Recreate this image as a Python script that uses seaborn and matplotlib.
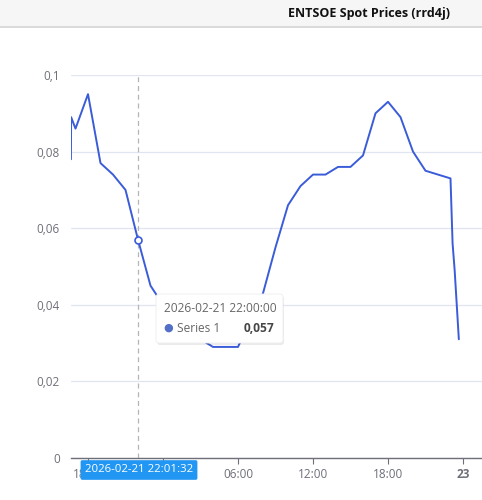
import pandas as pd
import numpy as np
import matplotlib
matplotlib.use("Agg")
import matplotlib.pyplot as plt
from matplotlib.patches import Rectangle, FancyBboxPatch
import seaborn as sns

# price data (EUR/kWh)
times = [
    "2026-02-21 16:38", "2026-02-21 16:39", "2026-02-21 17:00",
    "2026-02-21 18:00", "2026-02-21 19:00", "2026-02-21 20:00",
    "2026-02-21 21:00", "2026-02-21 22:00", "2026-02-21 23:00",
    "2026-02-22 00:00", "2026-02-22 01:00", "2026-02-22 02:00",
    "2026-02-22 03:00", "2026-02-22 04:00", "2026-02-22 05:00",
    "2026-02-22 06:00", "2026-02-22 07:00", "2026-02-22 08:00",
    "2026-02-22 09:00", "2026-02-22 10:00", "2026-02-22 11:00",
    "2026-02-22 12:00", "2026-02-22 13:00", "2026-02-22 14:00",
    "2026-02-22 15:00", "2026-02-22 16:00", "2026-02-22 17:00",
    "2026-02-22 18:00", "2026-02-22 19:00", "2026-02-22 20:00",
    "2026-02-22 21:00", "2026-02-22 22:00", "2026-02-22 23:00",
    "2026-02-22 23:10", "2026-02-22 23:20", "2026-02-22 23:40",
]
prices = [
    0.078, 0.089, 0.086,
    0.095, 0.077, 0.074,
    0.070, 0.057, 0.045,
    0.040, 0.036, 0.033,
    0.031, 0.029, 0.029,
    0.029, 0.036, 0.043,
    0.055, 0.066, 0.071,
    0.074, 0.074, 0.076,
    0.076, 0.079, 0.090,
    0.093, 0.089, 0.080,
    0.075, 0.074, 0.073,
    0.056, 0.049, 0.031,
]
y_ticks = [0, 0.02, 0.04, 0.06, 0.08, 0.1]
y_labels = ["0", "0,02", "0,04", "0,06", "0,08", "0,1"]
x_ticks = ["2026-02-21 18:00", "2026-02-22 00:00", "2026-02-22 06:00",
           "2026-02-22 12:00", "2026-02-22 18:00", "2026-02-23 00:00"]
# the midnight label under the pointer box is hidden in the reference
x_labels = ["18:00", "", "06:00", "12:00", "18:00", "23"]
hover_time = "2026-02-21 22:00"
hover_value = 0.057

df = pd.DataFrame({"time": pd.to_datetime(times), "price": prices})

sns.set_theme(style="white")
plt.rcParams["font.family"] = ["Open Sans", "DejaVu Sans"]

W, H = 482, 500
fig = plt.figure(figsize=(W / 100, H / 100), dpi=100)
fig.patch.set_facecolor("white")

def fx(px):
    return px / W

def fy(py):
    return 1 - py / H

ax = fig.add_axes([fx(71), fy(458), (482 - 71) / W, (458 - 75) / H])
line_color = "#3a5cd8"
sns.lineplot(data=df, x="time", y="price", ax=ax, color=line_color, lw=1.4)

# crosshair + hovered point
hx = pd.Timestamp(hover_time)
ax.axvline(hx, color="#b5b5b5", lw=0.9, ls=(0, (4, 3)), zorder=1)
ax.plot([hx], [hover_value], marker="o", ms=5, mfc="white", mec=line_color, mew=1.2, zorder=5)

ax.set_ylim(0, 0.1)
start = pd.Timestamp("2026-02-21 18:00")
left = start + pd.Timedelta(hours=(71 - 88) / 12.5)
right = start + pd.Timedelta(hours=(482 - 88) / 12.5)
ax.set_xlim(left, right)

ax.set_yticks(y_ticks)
ax.set_yticklabels(y_labels)
ax.set_xticks(pd.to_datetime(x_ticks))
ax.set_xticklabels(x_labels)
for lbl in ax.get_xticklabels():
    if lbl.get_text() == "23":
        lbl.set_fontweight("bold")
        lbl.set_color("#464646")
ax.tick_params(axis="y", length=0, pad=8, labelsize=8.5, labelcolor="#6e7079")
ax.tick_params(axis="x", length=4, width=0.8, color="#6e7079", pad=3,
               labelsize=8.5, labelcolor="#6e7079", direction="out")
ax.xaxis.set_ticks_position("bottom")
ax.grid(axis="y", color="#e0e6f1", lw=0.9)
ax.grid(axis="x", visible=False)
for s in ["left", "right", "top"]:
    ax.spines[s].set_visible(False)
ax.spines["bottom"].set_color("#6e7079")
ax.spines["bottom"].set_linewidth(1.0)
ax.set_xlabel("")
ax.set_ylabel("")

# header bar
fig.add_artist(Rectangle((0, fy(26)), 1, 26 / H, transform=fig.transFigure,
                         facecolor="#f6f6f6", edgecolor="none", zorder=0))
fig.add_artist(Rectangle((0, fy(27.5)), 1, 1.5 / H, transform=fig.transFigure,
                         facecolor="#dadada", edgecolor="none", zorder=0))
fig.text(fx(369), fy(13), "ENTSOE Spot Prices (rrd4j)", ha="center", va="center",
         fontsize=9, fontweight="bold", color="#111111")

# tooltip
tx0, ty0, tx1, ty1 = 156, 294, 283, 343
fig.add_artist(FancyBboxPatch((fx(tx0 + 1), fy(ty1 + 2)), (tx1 - tx0) / W, (ty1 - ty0) / H,
                              boxstyle="round,pad=0,rounding_size=0.006",
                              transform=fig.transFigure, facecolor="#000000", alpha=0.08,
                              edgecolor="none", zorder=9))
fig.add_artist(FancyBboxPatch((fx(tx0), fy(ty1)), (tx1 - tx0) / W, (ty1 - ty0) / H,
                              boxstyle="round,pad=0,rounding_size=0.006",
                              transform=fig.transFigure, facecolor="white",
                              edgecolor="#eeeeee", lw=0.6, zorder=10))
fig.text(fx(164), fy(309), "2026-02-21 22:00:00", ha="left", va="center",
         fontsize=8.6, color="#666666", zorder=11)
fig.text(fx(168), fy(328), "\u25cf", ha="center", va="center",
         fontsize=8, color="#5470c6", zorder=11)
fig.text(fx(177), fy(328), "Series 1", ha="left", va="center",
         fontsize=8.6, color="#666666", zorder=11)
fig.text(fx(274), fy(328), "0,057", ha="right", va="center",
         fontsize=8.6, fontweight="bold", color="#464646", zorder=11)

# axis pointer label
fig.text(fx(139), fy(470), "2026-02-21 22:01:32", ha="center", va="center",
         fontsize=8.2, color="white", zorder=12,
         bbox=dict(boxstyle="round,pad=0.38,rounding_size=0.15",
                   facecolor="#2196f3", edgecolor="none"))

fig.savefig("out.png", dpi=100)
